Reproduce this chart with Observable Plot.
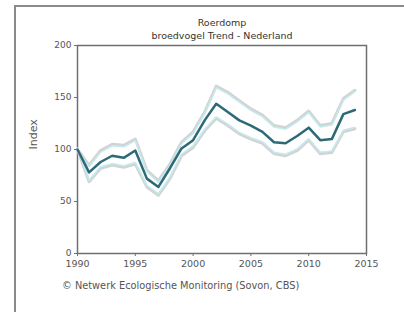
<!DOCTYPE html>
<html>
<head>
<meta charset="utf-8">
<script src="https://cdn.jsdelivr.net/npm/d3@7"></script>
<script src="https://cdn.jsdelivr.net/npm/@observablehq/plot@0.6"></script>
<style>
  body { margin: 0; background: #fff; font-family: "DejaVu Sans", Verdana, sans-serif; }
  #wrap { position: relative; width: 404px; height: 312px; overflow: hidden; }
  #border { position: absolute; left: 14px; top: 5px; width: 500px; height: 400px; border-left: 2px solid #8a8a8a; border-top: 2px solid #8a8a8a; }
  #title { position: absolute; left: 100px; width: 244px; top: 16px; text-align: center; font-size: 9.5px; line-height: 13px; color: #333; }
  #caption { position: absolute; left: 62px; top: 280px; font-size: 9.8px; color: #555; }
  #chart { position: absolute; left: 0; top: 0; }
</style>
</head>
<body>
<div id="wrap">
  <div id="border"></div>
  <div id="chart"></div>
  <div id="title">Roerdomp<br>broedvogel Trend - Nederland</div>
  <div id="caption">© Netwerk Ecologische Monitoring (Sovon, CBS)</div>
</div>
<script>
const years = [1990,1991,1992,1993,1994,1995,1996,1997,1998,1999,2000,2001,2002,2003,2004,2005,2006,2007,2008,2009,2010,2011,2012,2013,2014];
const trend = [100,78,88,94,92,99,72,64,82,101,109,128,144,136,128,123,117,107,106,113,121,109,110,134,138];
const upper = [100,85,99,105,104,110,80,70,86,107,117,136,161,155,147,139,133,123,121,128,137,123,125,149,157];
const lower = [100,69,82,85,83,86,64,56,72,94,102,118,130,123,115,110,106,96,94,99,109,96,97,117,120];
const yTicks = [0,50,100,150,200];
const xTicks = [1990,1995,2000,2005,2010,2015];

const rows = years.map((y,i) => ({year: y, trend: trend[i], upper: upper[i], lower: lower[i]}));

const chart = Plot.plot({
  width: 404,
  height: 312,
  marginLeft: 77,
  marginRight: 38,
  marginTop: 45,
  marginBottom: 59,
  style: {background: "transparent", fontFamily: "DejaVu Sans, Verdana, sans-serif", fontSize: "9px", color: "#555"},
  x: {domain: [1990, 2015], ticks: xTicks, tickFormat: d => String(d), label: null, tickSize: 3},
  y: {domain: [0, 200], ticks: yTicks, label: null, tickSize: 3},
  marks: [
    Plot.frame({stroke: "#6f6f6f", strokeWidth: 1.5}),
    Plot.line(rows, {x: "year", y: "upper", stroke: "#d3d3d3", strokeWidth: 3}),
    Plot.line(rows, {x: "year", y: "lower", stroke: "#d3d3d3", strokeWidth: 3}),
    Plot.line(rows, {x: "year", y: "upper", stroke: "#c2ebf0", strokeWidth: 1.5, dy: 1.5}),
    Plot.line(rows, {x: "year", y: "lower", stroke: "#c2ebf0", strokeWidth: 1.5, dy: -1.5}),
    Plot.line(rows, {x: "year", y: "trend", stroke: "#2c6a78", strokeWidth: 2.5}),
    Plot.axisY({ticks: yTicks, tickSize: 3, tickPadding: 3, stroke: "#6f6f6f", label: null, fontSize: 9}),
    Plot.axisX({ticks: xTicks, tickFormat: d => String(d), tickSize: 3, tickPadding: 4, stroke: "#6f6f6f", label: null, fontSize: 9.5}),
    Plot.text(["Index"], {frameAnchor: "left", dx: -44, rotate: -90, fontSize: 11, fill: "#555"})
  ]
});
document.getElementById("chart").appendChild(chart);
</script>
</body>
</html>
